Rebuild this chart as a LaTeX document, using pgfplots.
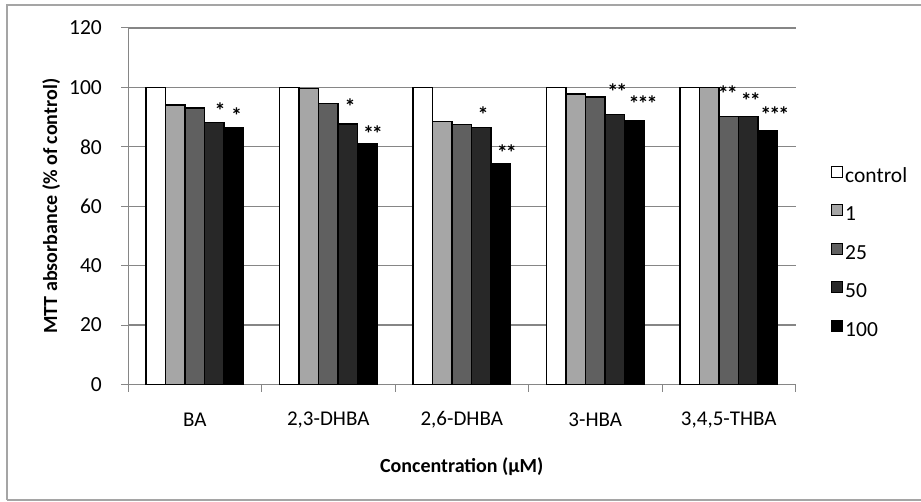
\documentclass[border=0pt]{standalone}
\usepackage{fontspec}
\setmainfont{Carlito}
\usepackage{pgfplots}
\pgfplotsset{compat=1.18}
\usepackage{pgfplotstable}

\definecolor{gridgray}{RGB}{134,134,134}
\definecolor{cone}{RGB}{166,166,166}
\definecolor{ctwentyfive}{RGB}{96,96,96}
\definecolor{cfifty}{RGB}{40,40,40}
\definecolor{chundred}{RGB}{0,0,0}
\definecolor{framegray}{RGB}{165,165,165}

\pgfplotstableread{
x ctrl d1 d25 d50 d100
0 100 94.1 93.1 88.2 86.6
1 100 99.7 94.7 87.7 81.2
2 100 88.6 87.6 86.6 74.2
3 100 97.8 96.8 91.0 88.7
4 100 100 90.1 90.1 85.5
}\mtt

\newcommand{\fs}{\fontsize{20}{24}\selectfont}
\newcommand{\ft}{\fontsize{21.5}{25}\selectfont}
\newcommand{\st}{\kern-2pt}

\pgfplotsset{
  common/.style={
    scale only axis, width=667.5pt, height=356.5pt,
    at={(128pt,116.5pt)}, anchor=south west,
    xmin=-0.5, xmax=4.5, ymin=0, ymax=120,
  }
}

\begin{document}
\begin{tikzpicture}
\useasboundingbox (0,0) rectangle (921pt,501pt);
\draw[framegray, line width=1.3pt] (7pt,1pt) -- (7pt,496pt) -- (930pt,496pt);
\draw[framegray, line width=1.3pt] (7pt,1pt) -- (930pt,1pt);
\begin{axis}[common,
  ybar=0pt, bar width=19.5pt,
  axis lines*=left,
  axis line style={gridgray, line width=1pt},
  tick align=outside, major tick length=7pt,
  tick style={gridgray, line width=1pt},
  ytick={0,20,40,60,80,100,120},
  ymajorgrids, grid style={gridgray, line width=1.2pt},
  xtick={-0.5,0.5,1.5,2.5,3.5,4.5}, xticklabels={},
  extra x ticks={0,1,2,3,4},
  extra x tick labels={BA,{2,3-DHBA},{2,6-DHBA},3-HBA,{3,4,5-THBA}},
  extra x tick style={major tick length=0pt, tick label style={font=\fontsize{21}{25}\selectfont, anchor=center, yshift=-35.5pt}},
  yticklabel style={font=\ft, /pgf/number format/assume math mode=true, anchor=east, inner sep=0pt, xshift=-19pt},
  xlabel={\textbf{Concentration (μM)}},
  ylabel={\textbf{MTT absorbance (\% of control)}},
  xlabel style={font=\fs, at={(axis description cs:0.5,-0.2314)}, anchor=center},
  ylabel style={font=\fs, at={(axis description cs:-0.115,0.5)}, anchor=center},
  legend style={font=\ft, at={(1.0532,0.366)}, anchor=west, draw=none, fill=none,
    inner sep=0pt, row sep=16pt, nodes={inner sep=2pt, text height=14pt, text depth=4pt}},
  legend cell align=left,
  legend image code/.code={\draw[#1, draw=black, line width=1pt] (0pt,0pt) rectangle (11pt,11pt);},
]
\addplot[fill=white, draw=black, line width=1.2pt] table[x=x, y=ctrl]{\mtt};
\addplot[fill=cone, draw=black, line width=1.2pt] table[x=x, y=d1]{\mtt};
\addplot[fill=ctwentyfive, draw=black, line width=1.2pt] table[x=x, y=d25]{\mtt};
\addplot[fill=cfifty, draw=black, line width=1.2pt] table[x=x, y=d50]{\mtt};
\addplot[fill=chundred, draw=black, line width=1.2pt] table[x=x, y=d100]{\mtt};
\legend{control,1,25,50,100}
\end{axis}
\begin{axis}[common, hide axis, clip=false]
\addplot[only marks, mark=none, nodes near coords, point meta=explicit symbolic,
  nodes near coords style={font=\bfseries\fontsize{22}{26}\selectfont, anchor=center, inner sep=0pt, yshift=-4pt}]
  coordinates {
  (0.189,93.6) [*]
  (0.314,91.9) [*]
  (1.163,94.8) [*]
  (1.335,85.8) [*\st*]
  (2.159,92.3) [*]
  (2.337,79.4) [*\st*]
  (3.165,99.8) [*\st*]
  (3.358,95.9) [*\st*\st*]
  (3.994,99.3) [*\st*]
  (4.165,97.0) [*\st*]
  (4.345,92.3) [*\st*\st*]
  };
\end{axis}
\end{tikzpicture}
\end{document}
